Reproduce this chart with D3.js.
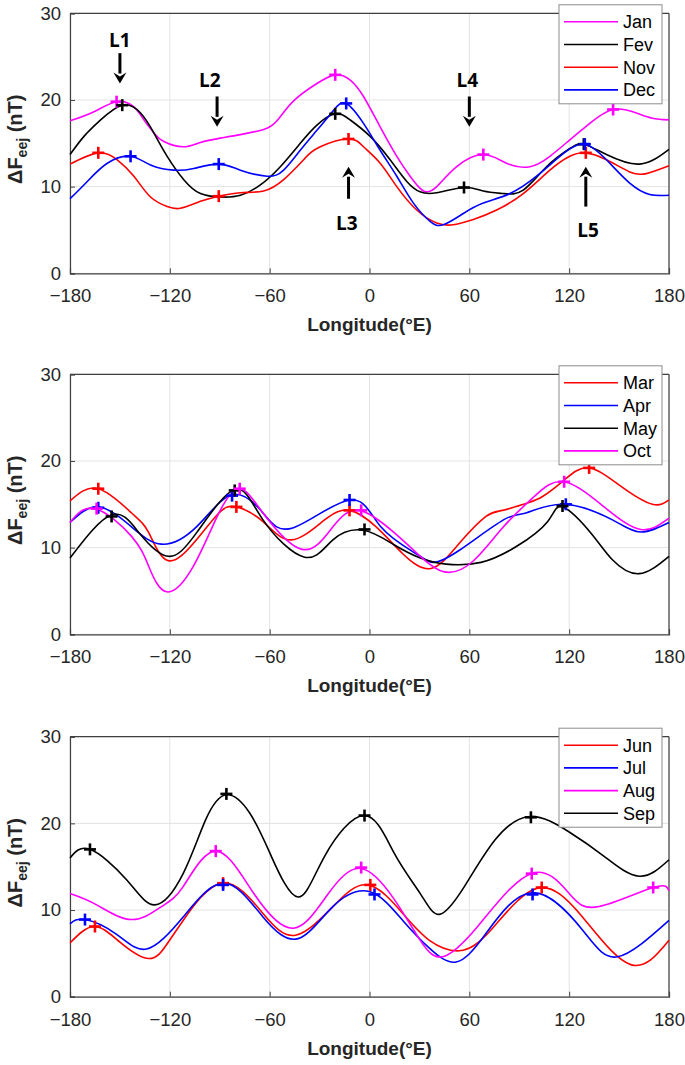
<!DOCTYPE html>
<html>
<head>
<meta charset="utf-8">
<script src="https://cdn.jsdelivr.net/npm/d3@7"></script>
<style>
  html, body { margin: 0; padding: 0; background: #fff; }
  svg { display: block; }
</style>
</head>
<body>
<div id="chart"></div>
<script>
// ---------------- DATA ----------------
const xTicks = [-180, -120, -60, 0, 60, 120, 180];
const yTicks = [0, 10, 20, 30];
const xLabel = "Longitude(°E)";

// Panel 1
const janPts = [[-180,17.6],[-165.6,18.65],[-152,19.8],[-141.6,19.2],[-135.6,17.7],[-129.6,16.2],[-123.6,15.2],[-112,14.6],[-101.6,15.1],[-89.6,15.6],[-77.6,16.0],[-63.6,16.6],[-55.6,17.6],[-45.6,19.9],[-31.6,21.9],[-20.6,22.9],[-11.6,22.3],[-3.6,20.4],[6.4,16.9],[16.4,13.5],[24.4,11.2],[32.4,9.5],[40.4,10.0],[52.4,12.3],[68.4,13.7],[82.4,12.7],[96.4,12.3],[108.4,13.5],[120.4,15.4],[132.4,17.3],[146.4,18.9],[160.4,18.5],[170,17.9],[180,17.7]];
const fevPts = [[-180,13.7],[-171.6,15.8],[-161.6,17.7],[-148.6,19.4],[-137.6,18.5],[-129.6,16.2],[-121.6,13.5],[-111.6,10.8],[-101.6,9.2],[-89.6,8.8],[-77.6,9.0],[-65.6,10.2],[-53.6,12.3],[-41.6,15.0],[-31.6,17.1],[-20.6,18.4],[-11.6,17.7],[0.4,15.8],[12.4,13.1],[22.4,10.6],[30.4,9.4],[40.4,9.3],[56.8,9.9],[68.4,9.5],[80.4,9.2],[92.4,9.6],[106.4,12.3],[120.4,14.4],[128.8,14.9],[142.4,13.7],[162.4,12.6],[180,14.3]];
const novPts = [[-180,12.6],[-163,13.9],[-151.6,13.1],[-141.6,11.2],[-131.6,8.8],[-121.6,7.7],[-113.6,7.5],[-101.6,8.3],[-90.6,8.9],[-77.6,9.3],[-63.6,9.5],[-51.6,10.8],[-39.6,13.1],[-29.6,14.6],[-12.6,15.5],[-3.6,14.6],[6.4,12.7],[16.4,10.0],[28.4,7.3],[40.4,5.8],[50.4,5.6],[62.4,6.2],[76.4,7.3],[92.4,9.2],[108.4,11.9],[120.4,13.5],[130,13.9],[142.4,13.1],[156.4,11.7],[166.4,11.5],[180,12.4]];
const decPts = [[-180,8.6],[-169.6,10.6],[-157.6,12.7],[-143.6,13.5],[-131.6,12.5],[-117.6,11.9],[-105.6,12.1],[-90.6,12.6],[-77.6,11.9],[-61.6,11.2],[-51.6,11.9],[-41.6,14.2],[-31.6,16.5],[-21.6,18.8],[-14,19.6],[-3.6,17.3],[6.4,14.2],[16.4,11.2],[26.4,8.1],[36.4,6.0],[44.4,5.6],[56.4,6.9],[68.4,8.1],[84.4,9.2],[100.4,11.2],[116.4,13.8],[129.4,14.9],[142.4,13.1],[156.4,10.4],[168.4,9.1],[180,9.0]];
const janMarks = [[-152,19.8],[-20.6,22.9],[68.4,13.7],[146.4,18.9]];
const fevMarks = [[-148.6,19.4],[-20.6,18.4],[56.8,9.9],[128.8,14.9]];
const novMarks = [[-163,13.9],[-90.6,8.9],[-12.6,15.5],[130,13.9]];
const decMarks = [[-143.6,13.5],[-90.6,12.6],[-14,19.6],[129.4,14.9]];

// Panel 2
const marPts = [[-180,15.4],[-163,16.8],[-143,14.0],[-132.6,11.7],[-121,8.5],[-104,10.9],[-90.5,14.0],[-80,14.7],[-64,13.0],[-47,10.9],[-27,13.2],[-12,14.3],[4,12.4],[20,9.3],[37,7.6],[54,10.5],[70,13.6],[80,14.3],[94,15.1],[104,15.9],[117,17.8],[132,19.2],[151.6,17.0],[170,15.0],[180,15.5]];
const aprPts = [[-180,12.9],[-163,14.7],[-143,12.4],[-125,10.4],[-104,12.4],[-82.6,16.1],[-64,14.0],[-45.7,12.3],[-12,15.5],[6.8,12.4],[28,9.3],[38.4,8.3],[54,9.7],[80.5,13.2],[94,14.0],[117,15.0],[146,13.2],[163,11.8],[180,12.9]];
const mayPts = [[-180,8.8],[-155,13.8],[-138,11.6],[-121,9.0],[-104,11.7],[-81,16.7],[-64,13.2],[-39,8.9],[-22,10.9],[-3.6,12.0],[15,10.3],[30.5,8.8],[46,8.1],[67,8.3],[88,10.1],[107,13.0],[116,14.7],[133,11.7],[146,8.6],[162,7.0],[180,9.0]];
const octPts = [[-180,12.9],[-165,14.5],[-143,11.3],[-132.6,7.8],[-122,4.9],[-106,7.8],[-90.5,14.0],[-78,16.8],[-64,14.0],[-40.5,9.8],[-22,12.4],[-6,14.3],[15,11.7],[30.5,9.0],[45,7.2],[62,8.4],[80.5,12.4],[99,15.9],[117,17.6],[141,14.7],[163,12.1],[180,13.4]];
const marMarks = [[-163,16.8],[-80,14.7],[-12,14.3],[132,19.2]];
const aprMarks = [[-163,14.6],[-82.6,16.0],[-12,15.5],[118,15.0]];
const mayMarks = [[-155,13.6],[-81,16.6],[-3,12.1],[116,14.8]];
const octMarks = [[-164,14.5],[-78,16.8],[-5,14.3],[117,17.6]];

// Panel 3
const junPts = [[-180,6.2],[-165.5,8.1],[-150,6.3],[-132.6,4.4],[-122,6.0],[-112,8.8],[-88.4,13.1],[-64,9.6],[-44.5,7.1],[-22,10.4],[-1,12.9],[20,9.6],[36,6.5],[54,5.3],[73,7.7],[100.5,12.5],[128,9.2],[157,3.7],[180,6.5]];
const julPts = [[-180,8.4],[-171,8.9],[-152,7.2],[-134,5.5],[-112,9.2],[-87.4,13.1],[-64,9.2],[-43,6.7],[-22,10.4],[0.3,12.1],[20,8.8],[36,5.6],[52,4.0],[70,7.3],[97.7,12.0],[128,7.7],[149,4.6],[180,8.8]];
const augPts = [[-180,11.9],[-164,10.6],[-143,8.9],[-125,10.4],[-112,12.7],[-92.4,16.8],[-69.5,11.9],[-45.7,7.9],[-24.7,11.9],[-5,14.8],[15,11.2],[30.5,6.5],[43.7,4.6],[65,8.1],[97,14.2],[120,11.9],[138,10.4],[170.5,12.6],[180,12.2]];
const sepPts = [[-180,16.0],[-168,17.0],[-146,13.5],[-129,10.6],[-112,14.2],[-98.5,20.4],[-86,23.3],[-72,21.2],[-59,16.2],[-43,11.5],[-27,16.2],[-3,20.9],[15,16.5],[30.5,11.9],[42,9.5],[57,12.7],[75.5,18.1],[96.6,20.8],[120,19.0],[141,16.2],[162,13.9],[180,15.8]];
const junMarks = [[-165,8.1],[-88,13.1],[0.5,12.9],[103.5,12.6]];
const julMarks = [[-171,8.9],[-88,12.9],[3,11.8],[98,11.8]];
const augMarks = [[-92.4,16.8],[-5,14.9],[97.5,14.2],[170.5,12.6]];
const sepMarks = [[-168,17.0],[-86,23.4],[-3,20.9],[97,20.7]];

// Annotations (panel 1)
const arrowLabels = ["L1","L2","L3","L4","L5"];
const arrowLon = [-150,-91.6,-12.6,60,130];
const arrowFrom = [25.4,20.4,8.6,20.4,7.7];
const arrowTo = [21.9,16.9,12.3,16.9,12.3];
const arrowTextPos = [[-150,26.9],[-96,22.3],[-13.6,5.8],[58.8,22.3],[131.4,5.0]];

const MAGENTA = "#ff00ff", BLACK = "#000000", RED = "#ff0000", BLUE = "#0000ff";

const panels = [
  { top: 13.3, series: [
      {name:"Jan", pts:janPts, marks:janMarks, color:MAGENTA},
      {name:"Fev", pts:fevPts, marks:fevMarks, color:BLACK},
      {name:"Nov", pts:novPts, marks:novMarks, color:RED},
      {name:"Dec", pts:decPts, marks:decMarks, color:BLUE}], arrows:true },
  { top: 374.3, series: [
      {name:"Mar", pts:marPts, marks:marMarks, color:RED},
      {name:"Apr", pts:aprPts, marks:aprMarks, color:BLUE},
      {name:"May", pts:mayPts, marks:mayMarks, color:BLACK},
      {name:"Oct", pts:octPts, marks:octMarks, color:MAGENTA}], arrows:false },
  { top: 736.7, series: [
      {name:"Jun", pts:junPts, marks:junMarks, color:RED},
      {name:"Jul", pts:julPts, marks:julMarks, color:BLUE},
      {name:"Aug", pts:augPts, marks:augMarks, color:MAGENTA},
      {name:"Sep", pts:sepPts, marks:sepMarks, color:BLACK}], arrows:false }
];

// ---------------- DRAW ----------------
const W = 685, H = 1065;
const left = 70, right = 669, plotH = 260;
const FONT = "'Liberation Sans', Arial, Helvetica, sans-serif";

const svg = d3.select("#chart").append("svg")
  .attr("width", W).attr("height", H)
  .attr("font-family", FONT);

const x = d3.scaleLinear().domain([-180, 180]).range([left, right]);

panels.forEach((p, pi) => {
  const y = d3.scaleLinear().domain([0, 30]).range([p.top + plotH, p.top]);
  const g = svg.append("g");

  // grid
  g.append("g").selectAll("line.vg").data(xTicks).join("line")
    .attr("x1", d => x(d)).attr("x2", d => x(d))
    .attr("y1", y(0)).attr("y2", y(30))
    .attr("stroke", "#e3e3e3").attr("stroke-width", 1);
  g.append("g").selectAll("line.hg").data(yTicks).join("line")
    .attr("x1", left).attr("x2", right)
    .attr("y1", d => y(d)).attr("y2", d => y(d))
    .attr("stroke", "#e3e3e3").attr("stroke-width", 1);

  // axes
  const xAxis = d3.axisBottom(x).tickValues(xTicks).tickSize(-5).tickPadding(16).tickFormat(d3.format("d"));
  const ax = g.append("g").attr("transform", `translate(0,${y(0)})`).call(xAxis);
  const yAxis = d3.axisLeft(y).tickValues(yTicks).tickSize(-5).tickPadding(9);
  const ay = g.append("g").attr("transform", `translate(${left},0)`).call(yAxis);
  [ax, ay].forEach(a => {
    a.select(".domain").attr("stroke", "#404040").attr("stroke-width", 1.2);
    a.selectAll(".tick line").attr("stroke", "#404040");
    a.selectAll(".tick text").attr("font-size", 18.5).attr("fill", "#262626").attr("font-family", FONT);
  });
  // top and right box
  g.append("line").attr("x1", left).attr("x2", right).attr("y1", y(30)).attr("y2", y(30))
    .attr("stroke", "#404040").attr("stroke-width", 1.2);
  g.append("line").attr("x1", right).attr("x2", right).attr("y1", y(30)).attr("y2", y(0))
    .attr("stroke", "#404040").attr("stroke-width", 1.2);

  // lines
  const line = d3.line().x(d => x(d[0])).y(d => y(d[1])).curve(d3.curveNatural);
  p.series.forEach(s => {
    g.append("path").datum(s.pts).attr("d", line)
      .attr("fill", "none").attr("stroke", s.color).attr("stroke-width", 1.6);
  });
  // markers
  p.series.forEach(s => {
    const m = g.append("g").selectAll("g").data(s.marks).join("g")
      .attr("transform", d => `translate(${x(d[0])},${y(d[1])})`);
    m.append("line").attr("x1", -6).attr("x2", 6).attr("y1", 0).attr("y2", 0)
      .attr("stroke", s.color).attr("stroke-width", 2.6);
    m.append("line").attr("x1", 0).attr("x2", 0).attr("y1", -6).attr("y2", 6)
      .attr("stroke", s.color).attr("stroke-width", 2.6);
  });

  // y label
  const yl = g.append("text")
    .attr("transform", `translate(22,${p.top + 126}) rotate(-90)`)
    .attr("text-anchor", "middle").attr("font-weight", "bold").attr("font-size", 20)
    .attr("fill", "#262626");
  yl.append("tspan").text("ΔF");
  yl.append("tspan").attr("font-size", 14).attr("dy", 5).text("eej");
  yl.append("tspan").attr("dy", -5).text(" (nT)");

  // x label
  g.append("text").attr("x", (left + right) / 2).attr("y", y(0) + 58)
    .attr("text-anchor", "middle").attr("font-weight", "bold").attr("font-size", 19)
    .attr("fill", "#262626").text(xLabel);

  // legend
  const lgTop = p.top - 8.5, lgLeft = 559, lgW = 103, lgH = 99;
  const lg = g.append("g");
  lg.append("rect").attr("x", lgLeft).attr("y", lgTop).attr("width", lgW).attr("height", lgH)
    .attr("fill", "#fff").attr("stroke", "#8c8c8c").attr("stroke-width", 1);
  p.series.forEach((s, i) => {
    const cy = lgTop + 17 + i * 22.7;
    lg.append("line").attr("x1", lgLeft + 5).attr("x2", lgLeft + 59).attr("y1", cy).attr("y2", cy)
      .attr("stroke", s.color).attr("stroke-width", 1.6);
    lg.append("text").attr("x", lgLeft + 64).attr("y", cy + 6.5)
      .attr("font-size", 18).attr("fill", "#000").text(s.name);
  });

  // annotations
  if (p.arrows) {
    const ann = g.append("g");
    arrowLabels.forEach((lab, i) => {
      const xa = x(arrowLon[i]);
      const y1 = y(arrowFrom[i]), y2 = y(arrowTo[i]);
      const dir = Math.sign(y2 - y1);
      const headL = 11, headW = 6.5;
      ann.append("line").attr("x1", xa).attr("x2", xa).attr("y1", y1).attr("y2", y2 - dir * headL + dir * 1)
        .attr("stroke", "#000").attr("stroke-width", 3);
      ann.append("path")
        .attr("d", `M${xa - headW},${y2 - dir * headL} L${xa},${y2} L${xa + headW},${y2 - dir * headL} L${xa},${y2 - dir * (headL - 4)} Z`)
        .attr("fill", "#000");
      ann.append("text").attr("x", x(arrowTextPos[i][0])).attr("y", y(arrowTextPos[i][1]) + 7)
        .attr("text-anchor", "middle").attr("font-weight", "bold").attr("font-size", 19)
        .attr("font-family", "'Open Sans', Lato, sans-serif").attr("fill", "#000").text(lab);
    });
  }
});
</script>
</body>
</html>
